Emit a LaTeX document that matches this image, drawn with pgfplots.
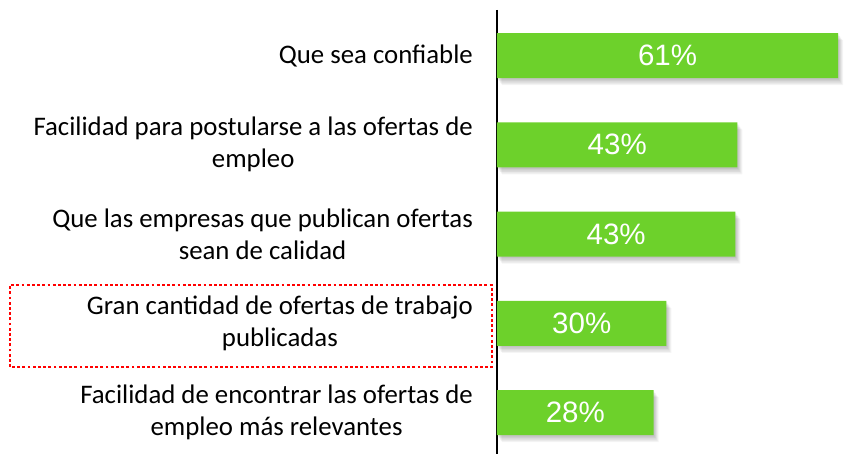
\documentclass[border=0pt]{standalone}
\usepackage{pgfplots}
\pgfplotsset{compat=1.18}
\usepackage{pgfplotstable}
\usepackage{fontspec}
\setmainfont{Carlito}
\newfontfamily\arial{Liberation Sans}
\definecolor{barg}{RGB}{109,209,43}
\pgfplotstableread{
pos val lbl
0 61.0 61
1 43.0 43
2 42.6 43
3 30.3 30
4 28.0 28
}\data
\begin{document}
\begin{tikzpicture}
\useasboundingbox (0,0) rectangle (846pt,454pt);
\begin{axis}[
  at={(497pt,0pt)}, anchor=south west,
  scale only axis, width=349pt, height=444pt,
  xmin=0, xmax=62.4, ymin=-0.51, ymax=4.465, y dir=reverse,
  axis x line=none, axis y line=left,
  y axis line style={-, line width=1.6pt, black},
  ytick=\empty, clip=false,
  shadowbar/.style={xbar, bar width=45pt, bar shift=0pt, draw=none, fill=black},
]
\addplot[shadowbar, opacity=0.06, xshift=1pt, yshift=-1.5pt] table[x=val, y=pos] {\data};
\addplot[shadowbar, opacity=0.06, xshift=2pt, yshift=-3pt] table[x=val, y=pos] {\data};
\addplot[shadowbar, opacity=0.06, xshift=3pt, yshift=-4.5pt] table[x=val, y=pos] {\data};
\addplot[shadowbar, opacity=0.05, xshift=4pt, yshift=-6pt] table[x=val, y=pos] {\data};
\addplot[shadowbar, opacity=0.04, xshift=5pt, yshift=-7pt] table[x=val, y=pos] {\data};
\addplot[xbar, bar width=45pt, bar shift=0pt, draw=none, fill=barg] table[x=val, y=pos] {\data};
\addplot[only marks, mark=none, point meta=explicit symbolic,
  nodes near coords={\pgfplotspointmeta\%},
  every node near coord/.style={anchor=center, text=white, font=\arial\fontsize{29.5}{30}\selectfont, inner sep=0pt}]
  table[x expr=\thisrow{val}/2, y=pos, meta=lbl] {\data};
\begin{scope}[every node/.style={anchor=east, align=center, inner sep=0pt, xshift=-24pt, font=\fontsize{26.8}{32}\selectfont}]
\node at (axis cs:0,0) {Que sea confiable};
\node at (axis cs:0,1) {Facilidad para postularse a las ofertas de\\empleo};
\node at (axis cs:0,2) {Que las empresas que publican ofertas\\sean de calidad};
\node at (axis cs:0,3) {Gran cantidad de ofertas de trabajo\\publicadas};
\node at (axis cs:0,4) {Facilidad de encontrar las ofertas de\\empleo más relevantes};
\end{scope}
\end{axis}
\draw[red, line width=2.8pt, dash pattern=on 2.8pt off 2.4pt] (10pt,87pt) rectangle (492pt,169pt);
\end{tikzpicture}
\end{document}
